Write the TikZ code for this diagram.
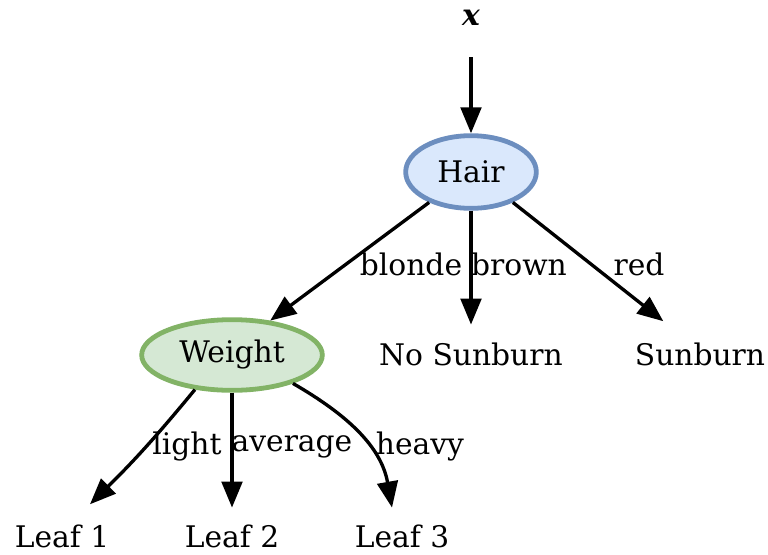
\documentclass[tikz,border=0pt]{standalone}
\usepackage{fontspec}
\setmainfont{DejaVu Serif}
\usetikzlibrary{arrows.meta,shapes.geometric}
\definecolor{hairfill}{HTML}{DAE8FC}
\definecolor{hairline}{HTML}{6C8EBF}
\definecolor{wfill}{HTML}{D5E8D4}
\definecolor{wline}{HTML}{82B366}
\begin{document}
\begin{tikzpicture}[x=0.75pt,y=-0.75pt,
  every node/.style={font=\fontsize{22.3}{27}\selectfont, inner sep=0pt},
  test/.style={ellipse, line width=3.6pt},
  outcome/.style={},
  lbl/.style={},
  edge/.style={line width=2.5pt, -{Triangle[length=19.5pt,width=15.5pt]}}]
\useasboundingbox (0,0) rectangle (768,554);
% root input
\node[minimum height=58.5pt] (x) at (471,18) {\textbf{\textit{x}}};
% decision nodes
\node[test, draw=hairline, fill=hairfill, minimum width=98pt, minimum height=54.5pt] (hair) at (471,172) {Hair};
\node[test, draw=wline, fill=wfill, minimum width=135.5pt, minimum height=53pt] (weight) at (232,355) {Weight};
% outcomes
\node[outcome] (nosun) at (471,354) {No Sunburn};
\node[outcome] (sun) at (700,354) {Sunburn};
\node[outcome] (leaf1) at (62,536) {Leaf 1};
\node[outcome] (leaf2) at (232,536) {Leaf 2};
\node[outcome] (leaf3) at (402,536) {Leaf 3};
% connectors (tips stop a little above the outcome texts)
\draw[edge] (x) -- (hair);
\draw[edge] (hair.-144) -- (weight.42);
\draw[edge] (hair.south) -- ([yshift=13.25pt]nosun.north);
\draw[edge] (hair.-36) -- ([xshift=-27.5pt,yshift=15.75pt]sun.north);
\draw[edge] (weight.-137) to[bend left=3] ([xshift=21pt,yshift=15pt]leaf1.north);
\draw[edge] (weight.south) -- ([yshift=12.5pt]leaf2.north);
\draw[edge] (weight.-25) to[out=-30,in=100] ([xshift=-7.5pt,yshift=12.5pt]leaf3.north);
% branch labels
\node[lbl] (lblonde) at (411,264) {blonde};
\node[lbl] (lbrown) at (519,264) {brown};
\node[lbl] (lred) at (639,264) {red};
\node[lbl] (llight) at (187,447) {light};
\node[lbl] (lavg) at (292,447) {average};
\node[lbl] (lheavy) at (420,447) {heavy};
\end{tikzpicture}
\end{document}
